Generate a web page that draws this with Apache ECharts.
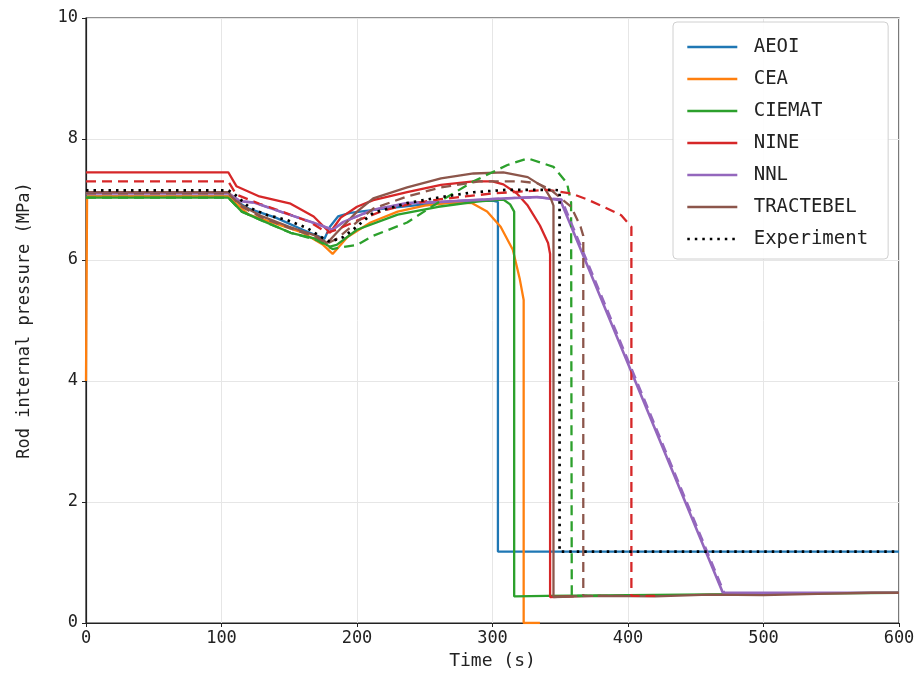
<!DOCTYPE html>
<html>
<head>
<meta charset="utf-8">
<script src="https://cdn.jsdelivr.net/npm/echarts@6/dist/echarts.min.js"></script>
<style>
html,body{margin:0;padding:0;background:#fff;}
#chart{width:919px;height:696px;}
</style>
</head>
<body>
<div id="chart"></div>
<script>
// ---- data (time in s, pressure in MPa) ----
const xTicks = [0, 100, 200, 300, 400, 500, 600];
const yTicks = [0, 2, 4, 6, 8, 10];

const aeoiT = [0, 105, 120, 140, 160, 176, 180, 186, 195, 220, 250, 280, 300, 304, 304, 600];
const aeoiP = [7.05, 7.05, 6.85, 6.7, 6.5, 6.35, 6.55, 6.72, 6.78, 6.85, 6.92, 6.97, 6.98, 6.96, 1.18, 1.18];

const ceaT = [0, 0.8, 105, 120, 140, 160, 175, 182, 193, 210, 230, 250, 270, 285, 296, 306, 315, 320, 323, 323, 335];
const ceaP = [4.0, 7.05, 7.05, 6.75, 6.6, 6.45, 6.25, 6.1, 6.38, 6.62, 6.8, 6.9, 6.95, 6.94, 6.8, 6.55, 6.17, 5.7, 5.34, 0.0, 0.0];

const ciematT = [0, 105, 115, 130, 151, 170, 180, 185, 200, 230, 260, 290, 308, 313, 316, 316, 340, 400, 500, 600];
const ciematP = [7.03, 7.03, 6.8, 6.65, 6.45, 6.35, 6.22, 6.25, 6.5, 6.75, 6.88, 6.97, 7.0, 6.92, 6.8, 0.44, 0.45, 0.46, 0.48, 0.5];

const ciematDashT = [0, 105, 115, 130, 151, 170, 182, 188, 200, 212, 237, 262, 286, 311, 326, 345, 355, 358, 358.5, 380];
const ciematDashP = [7.03, 7.03, 6.8, 6.65, 6.45, 6.33, 6.18, 6.21, 6.25, 6.4, 6.62, 6.98, 7.3, 7.57, 7.68, 7.54, 7.27, 6.95, 0.45, 0.45];

const nineT = [0, 105, 111, 128, 151, 168, 180, 188, 200, 212, 237, 262, 286, 300, 308, 318, 326, 335, 341, 342.5, 342.5, 360];
const nineP = [7.45, 7.45, 7.22, 7.05, 6.93, 6.72, 6.45, 6.7, 6.88, 6.99, 7.12, 7.24, 7.3, 7.3, 7.25, 7.1, 6.9, 6.57, 6.28, 6.1, 0.43, 0.44];

const nineDashT = [0, 105, 111, 128, 141, 165, 178, 185, 200, 220, 240, 260, 280, 300, 320, 340, 358, 370, 382, 395, 402.5, 402.5, 420];
const nineDashP = [7.3, 7.3, 7.08, 6.93, 6.83, 6.63, 6.45, 6.5, 6.65, 6.82, 6.93, 7.0, 7.05, 7.1, 7.13, 7.16, 7.1, 7.0, 6.88, 6.74, 6.55, 0.45, 0.45];

const nnlT = [0, 105, 114, 124, 150, 170, 182, 190, 212, 237, 262, 286, 311, 333, 350, 470, 600];
const nnlP = [7.1, 7.1, 6.97, 6.95, 6.75, 6.6, 6.5, 6.63, 6.83, 6.94, 6.96, 6.99, 7.02, 7.04, 6.99, 0.5, 0.5];

const nnlDashT = [0, 105, 114, 124, 150, 170, 182, 190, 212, 237, 262, 286, 311, 333, 351, 471];
const nnlDashP = [7.1, 7.1, 6.97, 6.95, 6.75, 6.6, 6.5, 6.63, 6.83, 6.94, 6.96, 6.99, 7.02, 7.04, 7.0, 0.5];

const tracT = [0, 105, 115, 130, 150, 170, 178, 185, 200, 212, 237, 262, 286, 308, 326, 338, 343, 345, 345, 380, 420, 460, 500, 540, 580, 600];
const tracP = [7.12, 7.12, 6.9, 6.72, 6.55, 6.4, 6.28, 6.45, 6.8, 7.02, 7.2, 7.35, 7.43, 7.45, 7.37, 7.2, 7.02, 6.9, 0.43, 0.45, 0.44, 0.47, 0.46, 0.48, 0.5, 0.5];

const tracDashT = [0, 105, 115, 130, 150, 170, 178, 185, 212, 237, 262, 290, 320, 333, 343, 358, 365, 367, 367, 400];
const tracDashP = [7.1, 7.1, 6.88, 6.7, 6.53, 6.38, 6.27, 6.35, 6.85, 7.05, 7.2, 7.3, 7.3, 7.27, 7.16, 6.88, 6.55, 6.4, 0.45, 0.45];

const expT = [0, 105, 109, 121, 134, 148.5, 163, 175, 180, 190, 197, 212, 237, 262, 286, 311, 345, 349.5, 349.5, 600];
const expP = [7.15, 7.15, 7.1, 6.86, 6.74, 6.66, 6.53, 6.36, 6.3, 6.38, 6.5, 6.78, 6.94, 7.04, 7.12, 7.16, 7.16, 7.15, 1.18, 1.18];

const legendNames = ['AEOI', 'CEA', 'CIEMAT', 'NINE', 'NNL', 'TRACTEBEL', 'Experiment'];

// ---- chart ----
const C = {blue:'#1f77b4', orange:'#ff7f0e', green:'#2ca02c', red:'#d62728', purple:'#9467bd', brown:'#8c564b'};
const zip = (t, p) => t.map((v, i) => [v, p[i]]);
const FONT = '"DejaVu Sans Mono", monospace';

function line(name, t, p, color, type, width) {
  return {
    name, type: 'line', data: zip(t, p), showSymbol: false, symbol: 'none',
    animation: false, silent: true,
    lineStyle: {color, width: width || 2.3, type: type || 'solid', cap: 'butt'},
    itemStyle: {color}
  };
}

const series = [
  line('AEOI', aeoiT, aeoiP, C.blue),
  line('CEA', ceaT, ceaP, C.orange),
  line('CIEMAT', ciematT, ciematP, C.green),
  line('NINE', nineT, nineP, C.red),
  line('NNL', nnlT, nnlP, C.purple, 'solid', 2.6),
  line('TRACTEBEL', tracT, tracP, C.brown),
  line('CIEMAT (2)', ciematDashT, ciematDashP, C.green, [10, 6]),
  line('NINE (2)', nineDashT, nineDashP, C.red, [10, 6]),
  line('NNL (2)', nnlDashT, nnlDashP, C.purple, [10, 6]),
  line('TRACTEBEL (2)', tracDashT, tracDashP, C.brown, [10, 6]),
  line('Experiment', expT, expP, '#000000', [2.5, 5], 2.7)
];

const chart = echarts.init(document.getElementById('chart'), null, {renderer: 'canvas'});
chart.setOption({
  backgroundColor: '#ffffff',
  animation: false,
  textStyle: {fontFamily: FONT},
  grid: {left: 86, right: 20, top: 18, bottom: 73, show: true, borderColor: '#222', borderWidth: 1.2, containLabel: false},
  xAxis: {
    type: 'value', min: xTicks[0], max: xTicks[xTicks.length - 1], interval: 100,
    name: 'Time (s)', nameLocation: 'middle', nameGap: 20,
    nameTextStyle: {fontFamily: FONT, fontSize: 18, color: '#222'},
    axisLine: {show: true, lineStyle: {color: '#222', width: 1.2}},
    axisTick: {show: true, length: 4, lineStyle: {color: '#222'}},
    axisLabel: {fontFamily: FONT, fontSize: 17, color: '#222', margin: 7},
    splitLine: {show: true, lineStyle: {color: '#e6e6e6', width: 1}}
  },
  yAxis: {
    type: 'value', min: yTicks[0], max: yTicks[yTicks.length - 1], interval: 2,
    name: 'Rod internal pressure (MPa)', nameLocation: 'middle', nameGap: 53,
    nameTextStyle: {fontFamily: FONT, fontSize: 17, color: '#222'},
    axisLine: {show: true, lineStyle: {color: '#222', width: 1.2}},
    axisTick: {show: true, length: 4, lineStyle: {color: '#222'}},
    axisLabel: {fontFamily: FONT, fontSize: 17, color: '#222', margin: 8},
    splitLine: {show: true, lineStyle: {color: '#e6e6e6', width: 1}}
  },
  legend: {
    data: legendNames,
    orient: 'vertical', left: 673, top: 22,
    itemWidth: 50, itemHeight: 14, itemGap: 12,
    padding: [15, 20, 10, 13],
    itemStyle: {opacity: 0},
    lineStyle: {width: 2.6},
    backgroundColor: 'rgba(255,255,255,0.9)', borderColor: '#d0d0d0', borderWidth: 1, borderRadius: 4,
    formatter: n => ' ' + n,
    textStyle: {fontFamily: FONT, fontSize: 19, color: '#222', lineHeight: 20},
    selectedMode: false
  },
  series
});
</script>
</body>
</html>
